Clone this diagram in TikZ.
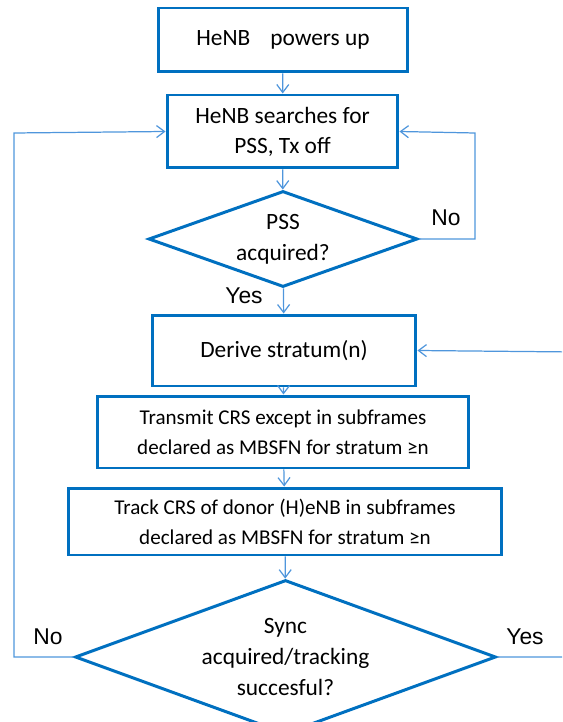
\documentclass[tikz,border=0pt]{standalone}
\usepackage{fontspec}
\setmainfont{Carlito}
\newfontfamily\labelfont{Liberation Sans}
\usetikzlibrary{shapes.geometric,arrows.meta}

\definecolor{boxblue}{RGB}{0,112,192}
\definecolor{lineblue}{RGB}{79,150,220}

\tikzset{
  stepbox/.style={rectangle, draw=boxblue, line width=1.7pt, align=center,
    inner sep=0pt, font=\fontsize{13.3}{17}\selectfont},
  smallbox/.style={stepbox, font=\fontsize{12}{17}\selectfont},
  decision/.style={diamond, draw=boxblue, line width=1.7pt, align=center,
    inner sep=0pt, shape aspect=2.75, font=\fontsize{13.3}{17.5}\selectfont},
  flow/.style={draw=lineblue, line width=0.7pt,
    -{Straight Barb[length=0.16cm,width=0.24cm]}},
  answer/.style={font=\labelfont\fontsize{13}{15}\selectfont, inner sep=0pt}
}

\begin{document}
\begin{tikzpicture}[x=0.02cm, y=-0.02cm]
  \useasboundingbox (0,0) rectangle (562,722);
  \clip (0,0) rectangle (562,722);

  % Draw the steps
  \node[stepbox, minimum width=5cm, minimum height=1.28cm] (powerup) at (283,40)
    {HeNB\hspace{0.4cm}powers up};
  \node[stepbox, minimum width=4.62cm, minimum height=1.46cm] (search) at (282.5,131.5)
    {HeNB searches for\\PSS, Tx off};
  \node[decision, minimum width=5.38cm, minimum height=1.92cm] (pss) at (283,239)
    {PSS\\acquired?};
  \node[stepbox, minimum width=5.28cm, minimum height=1.42cm] (stratum) at (284,350.5)
    {Derive stratum(n)};
  \node[smallbox, minimum width=7.44cm, minimum height=1.44cm] (transmit) at (283,432)
    {Transmit CRS except in subframes\\declared as MBSFN for stratum ≥n};
  \node[smallbox, minimum width=8.68cm, minimum height=1.34cm] (track) at (285,521.5)
    {Track CRS of donor (H)eNB in subframes\\declared as MBSFN for stratum ≥n};
  \node[decision, minimum width=8.42cm, minimum height=3.08cm] (sync) at (285.5,657)
    {Sync\\acquired/tracking\\succesful?};

  % Down the chain
  \draw[flow] (powerup) -- (search);
  \draw[flow] (search) -- (pss);
  \draw[flow] (pss) -- (stratum);
  \draw[flow] (stratum) -- (transmit);
  \draw[flow] (transmit) -- (track);
  \draw[flow] (track) -- (sync);

  % Loops back
  \coordinate (pssloop) at (475,133);
  \coordinate (syncno) at (14,133);
  \coordinate (syncyes) at (575,352);
  \draw[flow] (pss.east) -| (pssloop) -- (search.east);
  \draw[flow] (sync.west) -| (syncno) -- (search.west);
  \draw[flow] (sync.east) -| (syncyes) -- (stratum.east);

  % Answers
  \node[answer] (pssno) at (446,218) {No};
  \node[answer] (pssyes) at (244,296) {Yes};
  \node[answer] (syncnolabel) at (48,637) {No};
  \node[answer] (syncyeslabel) at (525,637) {Yes};
\end{tikzpicture}
\end{document}
